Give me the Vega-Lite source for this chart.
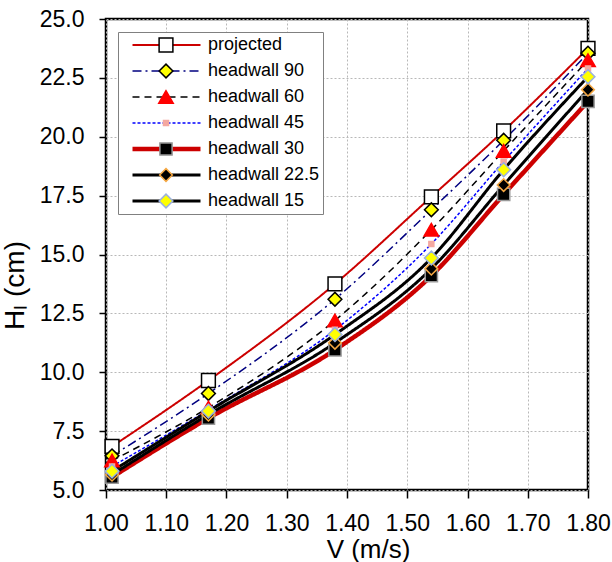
{
  "$schema": "https://vega.github.io/schema/vega-lite/v6.json",
  "width": 482,
  "height": 471,
  "autosize": {"type": "none"},
  "padding": {"left": 106, "top": 19, "right": 24, "bottom": 72},
  "background": "white",
  "config": {
    "font": "Liberation Sans",
    "view": {"stroke": "black", "strokeWidth": 2.5},
    "axis": {
      "domain": false,
      "grid": true,
      "gridColor": "#b8b8b8",
      "gridDash": [2, 2],
      "gridWidth": 1,
      "tickColor": "black",
      "tickWidth": 1.5,
      "tickSize": 8,
      "labelColor": "black",
      "labelFontSize": 23,
      "labelFlush": false,
      "labelOverlap": false,
      "labelBound": false,
      "titleColor": "black",
      "titleFontWeight": "normal",
      "titleFontSize": 26
    }
  },
  "data": {
    "values": [
      {"V": 1.01, "HL": 6.85, "series": "projected"},
      {"V": 1.17, "HL": 9.65, "series": "projected"},
      {"V": 1.38, "HL": 13.75, "series": "projected"},
      {"V": 1.54, "HL": 17.45, "series": "projected"},
      {"V": 1.66, "HL": 20.25, "series": "projected"},
      {"V": 1.80, "HL": 23.75, "series": "projected"},
      {"V": 1.01, "HL": 6.45, "series": "headwall 90"},
      {"V": 1.17, "HL": 9.1, "series": "headwall 90"},
      {"V": 1.38, "HL": 13.1, "series": "headwall 90"},
      {"V": 1.54, "HL": 16.9, "series": "headwall 90"},
      {"V": 1.66, "HL": 19.85, "series": "headwall 90"},
      {"V": 1.80, "HL": 23.55, "series": "headwall 90"},
      {"V": 1.01, "HL": 6.25, "series": "headwall 60"},
      {"V": 1.17, "HL": 8.5, "series": "headwall 60"},
      {"V": 1.38, "HL": 12.2, "series": "headwall 60"},
      {"V": 1.54, "HL": 16.05, "series": "headwall 60"},
      {"V": 1.66, "HL": 19.4, "series": "headwall 60"},
      {"V": 1.80, "HL": 23.25, "series": "headwall 60"},
      {"V": 1.01, "HL": 6.0, "series": "headwall 45"},
      {"V": 1.17, "HL": 8.4, "series": "headwall 45"},
      {"V": 1.38, "HL": 11.8, "series": "headwall 45"},
      {"V": 1.54, "HL": 15.45, "series": "headwall 45"},
      {"V": 1.66, "HL": 18.95, "series": "headwall 45"},
      {"V": 1.80, "HL": 22.9, "series": "headwall 45"},
      {"V": 1.01, "HL": 5.55, "series": "headwall 30"},
      {"V": 1.17, "HL": 8.05, "series": "headwall 30"},
      {"V": 1.38, "HL": 10.95, "series": "headwall 30"},
      {"V": 1.54, "HL": 14.1, "series": "headwall 30"},
      {"V": 1.66, "HL": 17.55, "series": "headwall 30"},
      {"V": 1.80, "HL": 21.5, "series": "headwall 30"},
      {"V": 1.01, "HL": 5.65, "series": "headwall 22.5"},
      {"V": 1.17, "HL": 8.2, "series": "headwall 22.5"},
      {"V": 1.38, "HL": 11.25, "series": "headwall 22.5"},
      {"V": 1.54, "HL": 14.4, "series": "headwall 22.5"},
      {"V": 1.66, "HL": 17.95, "series": "headwall 22.5"},
      {"V": 1.80, "HL": 22.0, "series": "headwall 22.5"},
      {"V": 1.01, "HL": 5.8, "series": "headwall 15"},
      {"V": 1.17, "HL": 8.35, "series": "headwall 15"},
      {"V": 1.38, "HL": 11.6, "series": "headwall 15"},
      {"V": 1.54, "HL": 14.85, "series": "headwall 15"},
      {"V": 1.66, "HL": 18.6, "series": "headwall 15"},
      {"V": 1.80, "HL": 22.55, "series": "headwall 15"}
    ]
  },
  "encoding": {
    "x": {
      "field": "V", "type": "quantitative",
      "scale": {"domain": [1.0, 1.8], "nice": false, "zero": false},
      "axis": {
        "values": [1.0, 1.1, 1.2, 1.3, 1.4, 1.5, 1.6, 1.7, 1.8],
        "format": ".2f",
        "labelPadding": 14,
        "title": "V (m/s)",
        "titleX": 262,
        "titleY": 46,
        "titleBaseline": "top"
      }
    },
    "y": {
      "field": "HL", "type": "quantitative",
      "scale": {"domain": [5, 25], "nice": false, "zero": false},
      "axis": {
        "values": [5, 7.5, 10, 12.5, 15, 17.5, 20, 22.5, 25],
        "format": ".1f",
        "tickSize": 7,
        "labelPadding": 15,
        "title": "Hₗ (cm)",
        "titleFontSize": 28,
        "titleX": -83,
        "titleY": 266,
        "titleBaseline": "alphabetic",
        "titleAngle": 270
      }
    }
  },
  "resolve": {
    "legend": {
      "color": "independent", "strokeDash": "independent", "strokeWidth": "independent",
      "shape": "independent", "fill": "independent", "stroke": "independent", "size": "independent"
    }
  },
  "layer": [
    {
      "mark": {"type": "line", "interpolate": "monotone"},
      "encoding": {
        "color": {
          "field": "series", "type": "nominal", "sort": null,
          "scale": {"range": ["#CC0000", "#000080", "#000000", "#0000FF", "#CC0000", "#000000", "#000000"]},
          "legend": {
            "title": null, "orient": "none", "legendX": 12, "legendY": 13, "zindex": 1,
            "direction": "vertical", "padding": 3, "rowPadding": 6, "clipHeight": 20,
            "symbolType": "stroke", "symbolSize": 4624, "symbolOffset": 9,
            "labelOffset": 5, "labelFontSize": 18, "labelColor": "black", "labelLimit": 0,
            "strokeColor": "#808080", "fillColor": "white"
          }
        },
        "strokeDash": {
          "field": "series", "type": "nominal", "sort": null,
          "scale": {"range": [[1, 0], [9, 4, 2, 4], [7, 5], [3, 2], [1, 0], [1, 0], [1, 0]]},
          "legend": {
            "title": null, "orient": "none", "legendX": 12, "legendY": 13, "zindex": 1,
            "direction": "vertical", "padding": 3, "rowPadding": 6, "clipHeight": 20,
            "symbolType": "stroke", "symbolSize": 4624, "symbolOffset": 9,
            "labelOffset": 5, "labelFontSize": 18, "labelColor": "black", "labelLimit": 0,
            "strokeColor": "#808080", "fillColor": "white"
          }
        },
        "strokeWidth": {
          "field": "series", "type": "ordinal", "sort": null,
          "scale": {"type": "ordinal", "range": [2, 1.5, 1.5, 1.5, 4.5, 3, 3]},
          "legend": {
            "title": null, "orient": "none", "legendX": 12, "legendY": 13, "zindex": 1,
            "direction": "vertical", "padding": 3, "rowPadding": 6, "clipHeight": 20,
            "symbolType": "stroke", "symbolSize": 4624, "symbolOffset": 9,
            "labelOffset": 5, "labelFontSize": 18, "labelColor": "black", "labelLimit": 0,
            "strokeColor": "#808080", "fillColor": "white"
          }
        }
      }
    },
    {
      "mark": {"type": "point", "filled": true, "opacity": 1, "strokeWidth": 1.5},
      "encoding": {
        "shape": {
          "field": "series", "type": "nominal", "sort": null,
          "scale": {"range": ["square", "diamond", "triangle-up", "square", "square", "diamond", "diamond"]},
          "legend": {
            "title": null, "orient": "none", "legendX": 12, "legendY": 13, "zindex": 2,
            "direction": "vertical", "padding": 3, "rowPadding": 6, "clipHeight": 20,
            "symbolOffset": 36, "symbolStrokeWidth": 1.5,
            "labelOffset": 0, "labelFontSize": 18, "labelExpr": "''"
          }
        },
        "fill": {
          "field": "series", "type": "nominal", "sort": null,
          "scale": {"range": ["#FFFFFF", "#FFFF00", "#FF0000", "#F4A8A0", "#000000", "#000000", "#FFFF00"]},
          "legend": {
            "title": null, "orient": "none", "legendX": 12, "legendY": 13, "zindex": 2,
            "direction": "vertical", "padding": 3, "rowPadding": 6, "clipHeight": 20,
            "symbolOffset": 36, "symbolStrokeWidth": 1.5,
            "labelOffset": 0, "labelFontSize": 18, "labelExpr": "''"
          }
        },
        "stroke": {
          "field": "series", "type": "nominal", "sort": null,
          "scale": {"range": ["#000000", "#000000", "#FF0000", "#F4A8A0", "#999999", "#F5A742", "#9AB0E0"]},
          "legend": {
            "title": null, "orient": "none", "legendX": 12, "legendY": 13, "zindex": 2,
            "direction": "vertical", "padding": 3, "rowPadding": 6, "clipHeight": 20,
            "symbolOffset": 36, "symbolStrokeWidth": 1.5,
            "labelOffset": 0, "labelFontSize": 18, "labelExpr": "''"
          }
        },
        "size": {
          "field": "series", "type": "ordinal", "sort": null,
          "scale": {"type": "ordinal", "range": [190, 190, 210, 25, 150, 160, 190]},
          "legend": {
            "title": null, "orient": "none", "legendX": 12, "legendY": 13, "zindex": 2,
            "direction": "vertical", "padding": 3, "rowPadding": 6, "clipHeight": 20,
            "symbolOffset": 36, "symbolStrokeWidth": 1.5,
            "labelOffset": 0, "labelFontSize": 18, "labelExpr": "''"
          }
        }
      }
    }
  ]
}
